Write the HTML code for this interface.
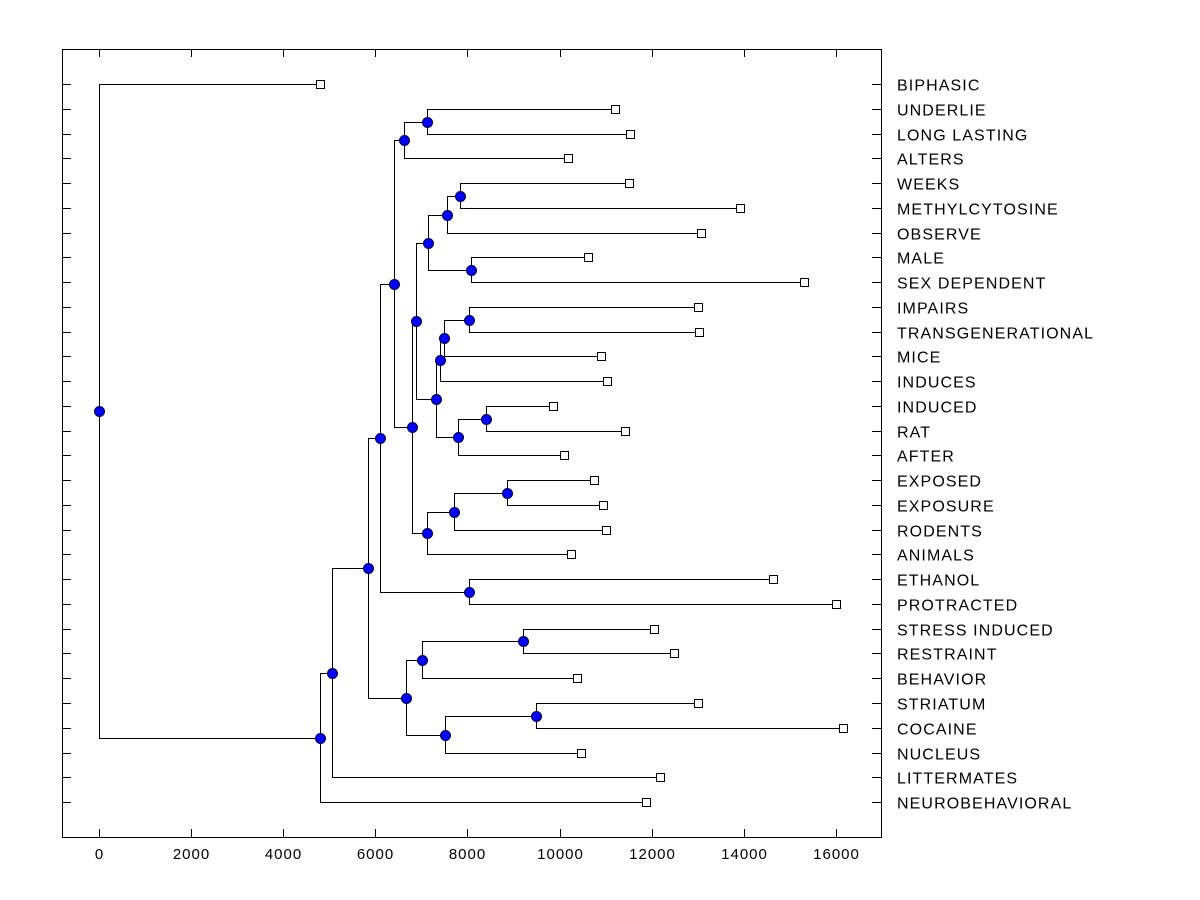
<!DOCTYPE html>
<html><head><meta charset="utf-8"><style>
body{margin:0;background:#fff;}
svg{display:block;font-family:"Liberation Sans",Arial,sans-serif;}
</style></head><body>
<svg id="chart" width="1200" height="900">
<rect x="62.5" y="49.5" width="819" height="788" fill="none" stroke="#000" stroke-width="1" shape-rendering="crispEdges"/>
<g id="axes" shape-rendering="crispEdges"></g><g id="links" shape-rendering="crispEdges"></g><g id="marks"></g><g id="labels"></g>
</svg>
<script>
const leaves=["BIPHASIC","UNDERLIE","LONG LASTING","ALTERS","WEEKS","METHYLCYTOSINE","OBSERVE","MALE","SEX DEPENDENT","IMPAIRS","TRANSGENERATIONAL","MICE","INDUCES","INDUCED","RAT","AFTER","EXPOSED","EXPOSURE","RODENTS","ANIMALS","ETHANOL","PROTRACTED","STRESS INDUCED","RESTRAINT","BEHAVIOR","STRIATUM","COCAINE","NUCLEUS","LITTERMATES","NEUROBEHAVIORAL"];
const leafValues=[4798,11203,11528,10182,11507,13917,13070,10617,15306,13005,13026,10899,11029,9857,11420,10096,10747,10942,11007,10248,14633,16000,12049,12484,10378,13005,16153,10465,12180,11876];
// merges: [childA, childB, height]; numbers = leaf index, "mN" = merge N
const merges=[
["1","2",7121],["m0","3",6622],
["4","5",7838],["m2","6",7555],["7","8",8076],["m3","m4",7143],
["9","10",8033],["m6","11",7490],["m7","12",7400],["13","14",8402],["m9","15",7794],["m8","m10",7310],
["m5","m11",6882],
["16","17",8858],["m13","18",7707],["m14","19",7121],
["m12","m15",6796],["m1","m16",6405],
["20","21",8033],["m17","m18",6101],
["22","23",9205],["m20","24",7013],["25","26",9488],["m22","27",7512],["m21","m23",6665],
["m19","m24",5840],["m25","28",5059],["m26","29",4798],["0","m27",0]
];
const xTicks=[0,2000,4000,6000,8000,10000,12000,14000,16000];
const X=v=>Math.round(99+v*0.04606)+0.5;
const rowY=i=>Math.round(84+i*24.76)+0.5;
const NS="http://www.w3.org/2000/svg";
function mk(tag,attrs,parent){const e=document.createElementNS(NS,tag);for(const k in attrs)e.setAttribute(k,attrs[k]);parent.appendChild(e);return e;}
const axes=document.getElementById('axes'),links=document.getElementById('links'),marks=document.getElementById('marks'),labels=document.getElementById('labels');
xTicks.forEach(t=>{
  const x=X(t);
  const a=mk('line',{x1:x,x2:x,y1:837,y2:829,stroke:'#000'},axes);
  
  
  const b=mk('line',{x1:x,x2:x,y1:49,y2:57,stroke:'#000'},axes);
  
  
  const l=mk('text',{x:x,y:859,'text-anchor':'middle','font-size':'15','letter-spacing':'1'},axes);
  l.textContent=t;
  
  
});
leaves.forEach((n,i)=>{
  const y=rowY(i);
  const a=mk('line',{x1:62,x2:71,y1:y,y2:y,stroke:'#000'},axes);
  
  
  const b=mk('line',{x1:872,x2:881,y1:y,y2:y,stroke:'#000'},axes);
  
  
  const t=mk('text',{x:897,y:y+6,'font-size':'16','letter-spacing':'1.1'},labels);
  t.textContent=n;
  
  
});
const pos={};
leaves.forEach((n,i)=>{pos[String(i)]={x:X(leafValues[i]),y:rowY(i),leaf:true};});
merges.forEach((m,k)=>{
  const a=pos[m[0]],b=pos[m[1]],x=X(m[2]),y=Math.round((a.y+b.y)/2-0.5)+0.5;
  pos['m'+k]={x:x,y:y};
  const p=mk('path',{d:`M${a.x},${a.y}H${x}V${b.y}H${b.x}`,fill:'none',stroke:'#000','stroke-width':1},links);
  
  
});
leaves.forEach((n,i)=>{
  const p=pos[String(i)];
  const r=mk('rect',{x:p.x-4,y:p.y-4,width:8,height:8,fill:'#fff',stroke:'#000','shape-rendering':'crispEdges'},marks);
  
  
});
merges.forEach((m,k)=>{
  const p=pos['m'+k];
  const c=mk('circle',{cx:p.x,cy:p.y,r:5,fill:'#0000ff',stroke:'#000033','stroke-width':1},marks);
  
  
});
</script>
</body></html>
